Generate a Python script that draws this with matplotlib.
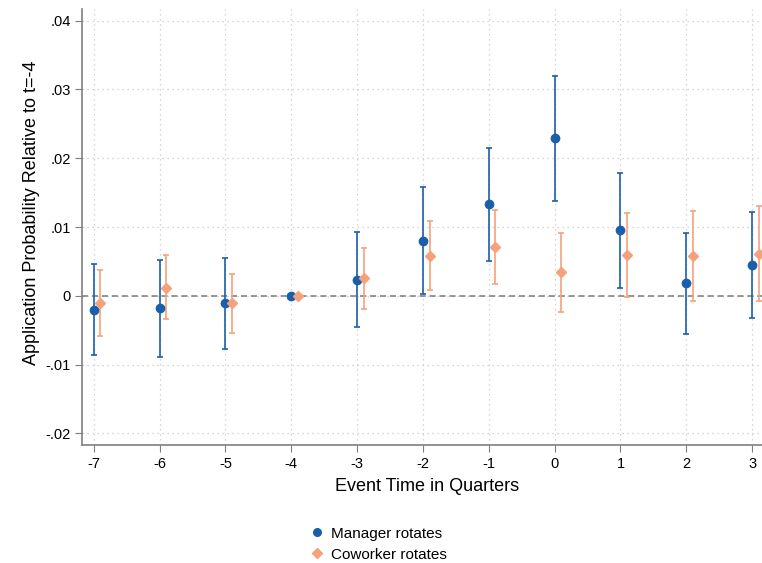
#! /usr/bin/env python3

"""Event-study coefficients for manager and coworker rotations."""

import matplotlib
matplotlib.use('Agg')
import matplotlib.pyplot as plt
from matplotlib.lines import Line2D

plt.rcParams['font.family'] = ['Liberation Sans', 'DejaVu Sans']
plt.rcParams['axes.unicode_minus'] = False

quarters = [-7, -6, -5, -4, -3, -2, -1, 0, 1, 2, 3]

manager_est = [-0.0020, -0.0018, -0.0011, 0.0, 0.0023, 0.0080, 0.0133,
               0.0229, 0.0095, 0.0018, 0.0045]
manager_lo = [-0.0086, -0.0089, -0.0077, 0.0, -0.0046, 0.0002, 0.0051,
              0.0138, 0.0011, -0.0055, -0.0032]
manager_hi = [0.0046, 0.0052, 0.0055, 0.0, 0.0093, 0.0158, 0.0215,
              0.0320, 0.0179, 0.0092, 0.0122]

coworker_est = [-0.0010, 0.0012, -0.0011, 0.0, 0.0026, 0.0058, 0.0071,
                0.0034, 0.0059, 0.0058, 0.0061]
coworker_lo = [-0.0058, -0.0034, -0.0054, 0.0, -0.0019, 0.0008, 0.0017,
               -0.0024, -0.0002, -0.0008, -0.0008]
coworker_hi = [0.0038, 0.0059, 0.0032, 0.0, 0.0070, 0.0109, 0.0124,
               0.0092, 0.0121, 0.0123, 0.0130]

yticks = [-0.02, -0.01, 0, 0.01, 0.02, 0.03, 0.04]
ytick_labels = ['-.02', '-.01', '0', '.01', '.02', '.03', '.04']

BLUE = '#1b5faa'
ORANGE = '#f5a27c'
SPINE = '#7f7f7f'


def draw_series(ax, shift, est, lo, hi, color, marker, size):
    """Draw point estimates with capped confidence intervals."""
    xs = [q + shift for q in quarters]
    err = [[e - l for e, l in zip(est, lo)], [h - e for e, h in zip(est, hi)]]
    ax.errorbar(xs, est, yerr=err, fmt=marker, color=color,
                markersize=size, elinewidth=1.2, capsize=2.5,
                capthick=1.2, zorder=3)


def main():
    fig = plt.figure(figsize=(7.62, 5.63), dpi=100)
    ax = fig.add_axes([0.1076, 0.2096, 0.8924, 0.7744])

    ax.axhline(0, color='#7a7a7a', linestyle=(0, (4, 2.5)),
               linewidth=1.1, zorder=1)

    draw_series(ax, 0.0, manager_est, manager_lo, manager_hi, BLUE, 'o', 6)
    draw_series(ax, 0.1, coworker_est, coworker_lo, coworker_hi, ORANGE,
                'D', 5.5)

    ax.set_xlim(-7.18, 3.15)
    ax.set_ylim(-0.0217, 0.0417)
    ax.set_xticks(quarters)
    ax.set_yticks(yticks)
    ax.set_yticklabels(ytick_labels)
    ax.tick_params(axis='both', labelsize=10.5, color=SPINE, length=5)
    ax.tick_params(axis='y', pad=3)

    ax.grid(True, color='#c8c8c8', linestyle=(0, (1, 3)), linewidth=0.9)
    ax.set_axisbelow(True)

    for side in ['top', 'right']:
        ax.spines[side].set_visible(False)
    for side in ['left', 'bottom']:
        ax.spines[side].set_color(SPINE)
        ax.spines[side].set_linewidth(1.2)

    ax.set_xlabel('Event Time in Quarters', fontsize=13, labelpad=5,
                  x=0.507)
    ax.set_ylabel('Application Probability Relative to t=-4', fontsize=13,
                  labelpad=4, y=0.532)

    handles = [
        Line2D([], [], linestyle='none', marker='o', color=BLUE,
               markersize=5.5),
        Line2D([], [], linestyle='none', marker='D', color=ORANGE,
               markersize=5),
    ]
    fig.legend(handles, ['Manager rotates', 'Coworker rotates'],
               loc='lower center', bbox_to_anchor=(0.495, -0.022),
               frameon=False, fontsize=11, handletextpad=0.3,
               handlelength=1.2, labelspacing=0.45)

    fig.savefig('out.png', dpi=100)


if __name__ == "__main__":
    main()
